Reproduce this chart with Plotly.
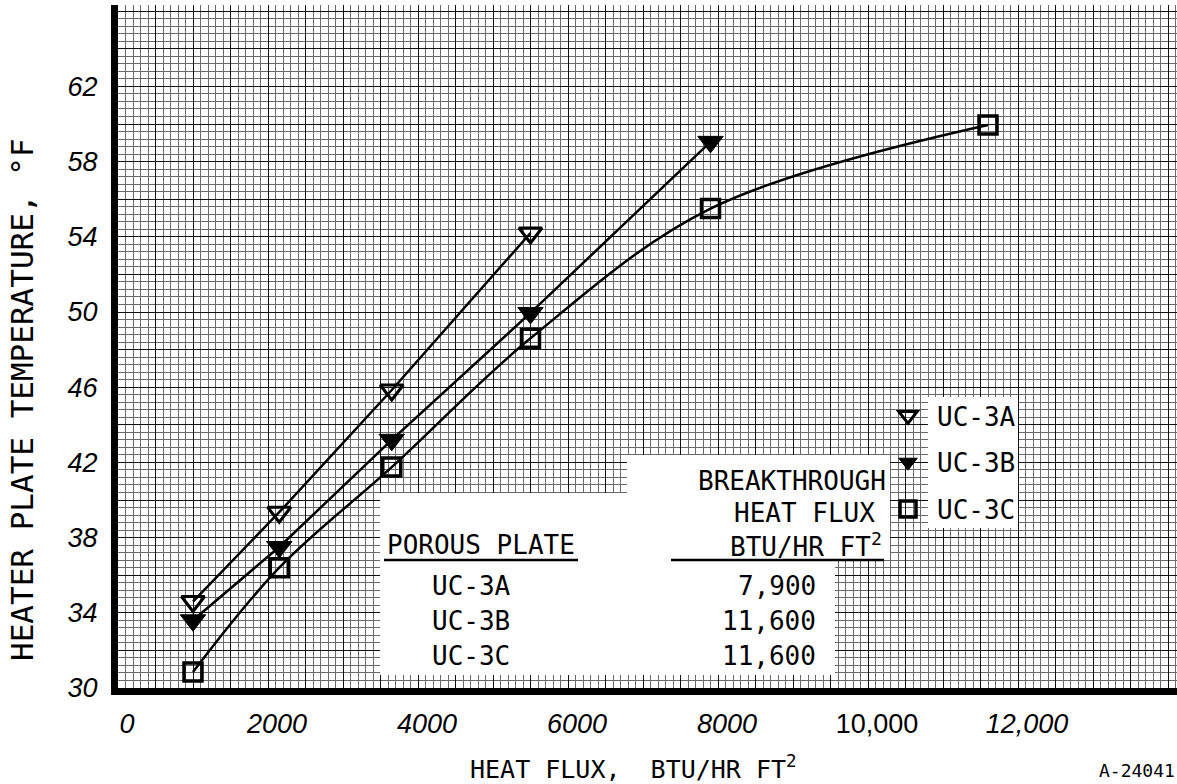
import plotly.graph_objects as go

# ---------------- data ----------------
flux_3a = [1000, 2150, 3650, 5500]
temp_3a = [34.6, 39.35, 45.85, 54.2]

flux_3b = [1000, 2150, 3650, 5500, 7900]
temp_3b = [33.6, 37.5, 43.2, 49.95, 59.05]

flux_3c = [1000, 2150, 3650, 5500, 7900, 11600]
temp_3c = [30.85, 36.4, 41.75, 48.6, 55.5, 59.95]

series_names = ["UC-3A", "UC-3B", "UC-3C"]

x_tick_vals = [0, 2000, 4000, 6000, 8000, 10000, 12000]
x_tick_text = ["<i>0</i>", "<i>2000</i>", "<i>4000</i>", "<i>6000</i>",
               "<i>8000</i>", "10,000", "<i>12,000</i>"]
y_tick_vals = [30, 34, 38, 42, 46, 50, 54, 58, 62]
y_tick_text = ["<i>30</i>", "<i>34</i>", "<i>38</i>", "<i>42</i>", "<i>46</i>",
               "<i>50</i>", "<i>54</i>", "<i>58</i>", "<i>62</i>"]

table_plates = ["UC-3A", "UC-3B", "UC-3C"]
table_flux = ["7,900", "11,600", "11,600"]

# ---------------- geometry ----------------
W, H = 1177, 784
L, T, R, B = 118, 5, 1177, 688
X_MIN, X_MAX = 0, (R - L) / 0.075
Y_MIN, Y_MAX = 30, 30 + (B - T) / 18.8


def dx(px):
    return X_MIN + (px - L) / (R - L) * (X_MAX - X_MIN)


def dy(py):
    return Y_MIN + (B - py) / (B - T) * (Y_MAX - Y_MIN)


MONO = "DejaVu Sans Mono"
SANS = "Liberation Sans"

fig = go.Figure()

# curves
line_style = dict(color="black", width=2.5)
fig.add_trace(go.Scatter(x=flux_3a, y=temp_3a, mode="lines", line=line_style,
                         showlegend=False, hoverinfo="skip"))
fig.add_trace(go.Scatter(x=flux_3b, y=temp_3b, mode="lines", line=line_style,
                         showlegend=False, hoverinfo="skip"))
fig.add_trace(go.Scatter(x=flux_3c, y=temp_3c, mode="lines",
                         line=dict(color="black", width=2.5, shape="spline", smoothing=1.0),
                         showlegend=False, hoverinfo="skip"))

# markers (legend entries)
fig.add_trace(go.Scatter(x=flux_3a, y=temp_3a, mode="markers", name=series_names[0],
                         legendgroup="a",
                         marker=dict(symbol="triangle-down-open", size=20, color="black",
                                     line=dict(color="black", width=3))))
fig.add_trace(go.Scatter(x=flux_3b, y=temp_3b, mode="markers", name=series_names[1],
                         legendgroup="b",
                         marker=dict(symbol="triangle-down", size=22, color="black",
                                     line=dict(color="black", width=1))))
fig.add_trace(go.Scatter(x=flux_3c, y=temp_3c, mode="markers", name=series_names[2],
                         legendgroup="c",
                         marker=dict(symbol="square-open", size=18, color="black",
                                     line=dict(color="black", width=3.5))))

# ---------------- white paper areas (table and legend text) ----------------
shapes = []
white_boxes = [
    (380, 493, 627, 675),
    (627, 455, 890, 560),
    (627, 560, 835, 675),
    (928, 397, 1018, 528),
]
for x0, y0, x1, y1 in white_boxes:
    shapes.append(dict(type="rect", xref="x", yref="y", layer="between",
                       x0=dx(x0), x1=dx(x1), y0=dy(y1), y1=dy(y0),
                       fillcolor="white", line=dict(width=0)))
# underlines
for x0, x1 in [(384, 578), (671, 884)]:
    shapes.append(dict(type="line", xref="x", yref="y", layer="above",
                       x0=dx(x0), x1=dx(x1), y0=dy(560), y1=dy(560),
                       line=dict(color="black", width=2.5)))

annotations = []


def add_text(text, px, py, xanchor="center", size=26, family=MONO, angle=0, yanchor="middle"):
    annotations.append(dict(text=text, x=dx(px), y=dy(py), xref="x", yref="y",
                            xanchor=xanchor, yanchor=yanchor, showarrow=False,
                            textangle=angle,
                            font=dict(family=family, size=size, color="black")))


add_text("BREAKTHROUGH", 888, 481, xanchor="right")
add_text("HEAT FLUX", 877, 513, xanchor="right")
add_text("BTU/HR FT<sup>2</sup>", 884, 545, xanchor="right")
add_text("POROUS PLATE", 481, 545)
for i, (p, f) in enumerate(zip(table_plates, table_flux)):
    add_text(p, 430, 586 + 35 * i, xanchor="left")
    add_text(f, 818, 586 + 35 * i, xanchor="right")

# axis titles
annotations.append(dict(text="HEAT FLUX,  BTU/HR FT<sup>2</sup>", xref="paper", yref="paper",
                        x=(633 - L) / (R - L), y=-(767 - B) / (B - T),
                        xanchor="center", yanchor="middle", showarrow=False,
                        font=dict(family=MONO, size=25, color="black")))
annotations.append(dict(text="HEATER PLATE TEMPERATURE, °F", xref="paper", yref="paper",
                        x=-(L - 22) / (R - L), y=(B - 400) / (B - T),
                        xanchor="center", yanchor="middle", showarrow=False, textangle=-90,
                        font=dict(family=MONO, size=31, color="black")))
annotations.append(dict(text="A-24041", xref="paper", yref="paper",
                        x=1.0, y=-(783 - B) / (B - T), xanchor="right", yanchor="bottom",
                        showarrow=False, font=dict(family=MONO, size=18, color="black")))

# full tick sets (graph-paper grid) built from label arrays
x_grid_vals = list(range(0, 14001, 500))
x_grid_text = [x_tick_text[x_tick_vals.index(v)] if v in x_tick_vals else " " for v in x_grid_vals]
y_grid_vals = list(range(30, 67, 2))
y_grid_text = [y_tick_text[y_tick_vals.index(v)] if v in y_tick_vals else " " for v in y_grid_vals]

fig.update_layout(
    width=W, height=H,
    margin=dict(l=L, r=W - R, t=T, b=H - B, pad=0, autoexpand=False),
    paper_bgcolor="white", plot_bgcolor="white",
    shapes=shapes, annotations=annotations,
    showlegend=True,
    legend=dict(x=(879 - L) / (R - L), y=(B - 392) / (B - T), xanchor="left", yanchor="top",
                bgcolor="rgba(0,0,0,0)", traceorder="grouped", tracegroupgap=10,
                itemwidth=48,
                font=dict(family=MONO, size=26, color="black"), itemsizing="trace"),
    xaxis=dict(range=[X_MIN, X_MAX], tickmode="array", tickvals=x_grid_vals, ticktext=x_grid_text,
               tickangle=0, automargin=False,
               showgrid=True, gridcolor="#111111", gridwidth=1.4, zeroline=False,
               showline=True, linecolor="black", linewidth=7, ticks="",
               ticklabelstandoff=6, ticklabelshift=9,
               tickfont=dict(family=SANS, size=27, color="black"),
               minor=dict(tickmode="linear", tick0=0, dtick=100, showgrid=True,
                          gridcolor="#6a6a6a", gridwidth=1)),
    yaxis=dict(range=[Y_MIN, Y_MAX], tickmode="array", tickvals=y_grid_vals, ticktext=y_grid_text,
               automargin=False,
               showgrid=True, gridcolor="#111111", gridwidth=1.4, zeroline=False,
               showline=True, linecolor="black", linewidth=7, ticks="",
               ticklabelstandoff=8,
               tickfont=dict(family=SANS, size=27, color="black"),
               minor=dict(tickmode="linear", tick0=30, dtick=0.4, showgrid=True,
                          gridcolor="#6a6a6a", gridwidth=1)),
)

fig.write_html("out.html")
